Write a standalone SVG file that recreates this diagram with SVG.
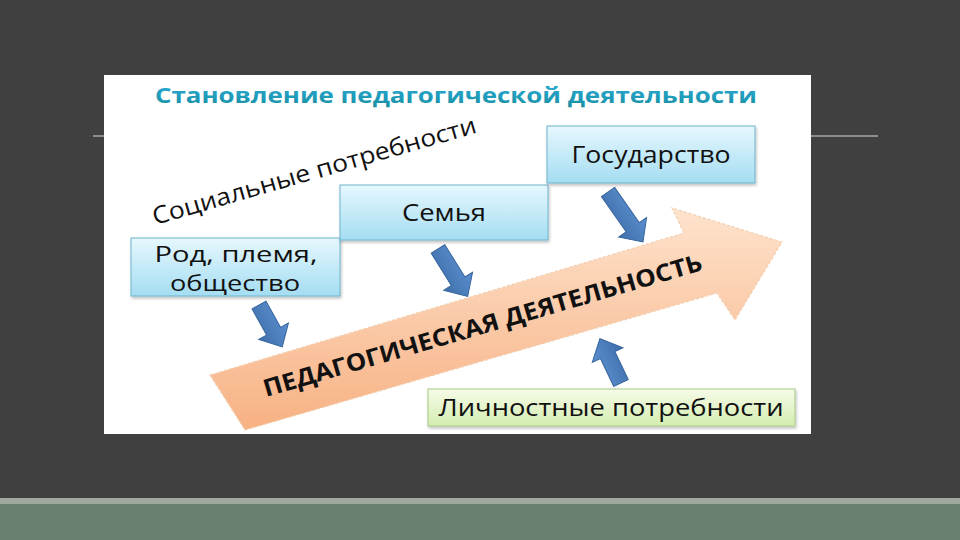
<svg xmlns="http://www.w3.org/2000/svg" width="960" height="540" viewBox="0 0 960 540">
<defs>
<linearGradient id="gBlue" x1="0" y1="0" x2="0" y2="1"><stop offset="0" stop-color="#e6f7fd"/><stop offset="1" stop-color="#a4ddf2"/></linearGradient>
<linearGradient id="gGreen" x1="0" y1="0" x2="0" y2="1"><stop offset="0" stop-color="#f6fbe8"/><stop offset="1" stop-color="#d4edb0"/></linearGradient>
<linearGradient id="gOrange" x1="0" y1="0" x2="0" y2="1"><stop offset="0" stop-color="#fee3cd"/><stop offset="1" stop-color="#f7b183"/></linearGradient>
<linearGradient id="gTitle" x1="0" y1="0" x2="0" y2="1"><stop offset="0" stop-color="#2db0e0"/><stop offset="1" stop-color="#178d9e"/></linearGradient>
<linearGradient id="gArrow" x1="0" y1="0" x2="0" y2="1"><stop offset="0" stop-color="#5b8fce"/><stop offset="1" stop-color="#3f6fab"/></linearGradient>
<filter id="sh" x="-10%" y="-10%" width="130%" height="140%"><feDropShadow dx="1" dy="2" stdDeviation="1.5" flood-color="#000" flood-opacity="0.25"/></filter>
</defs>
<style>
.box{stroke:#6eb3cb;stroke-width:1;filter:url(#sh)}
.lbl{font-family:"Open Sans","Liberation Sans",sans-serif;font-size:23px;fill:#111;text-anchor:middle}
.barrow{fill:url(#gArrow);stroke:#36649c;stroke-width:1}
</style>
<rect width="960" height="540" fill="#404040"/>
<rect x="0" y="498" width="960" height="6" fill="#9fa99f"/>
<rect x="0" y="504" width="960" height="36" fill="#6b7f71"/>
<line x1="93" y1="136" x2="878" y2="136" stroke="#dcdcdc" stroke-width="1"/>
<rect x="104" y="75" width="707" height="359" fill="#ffffff"/>
<text x="155" y="103" font-family="'Open Sans','Liberation Sans',sans-serif" font-weight="bold" font-size="22" fill="url(#gTitle)" textLength="602" lengthAdjust="spacingAndGlyphs">Становление педагогической деятельности</text>
<g id="big-arrow">
<path d="M210,375 L684,233 L672,208 L782,242 L735,320 L717,293 L245,430 Z" fill="url(#gOrange)" stroke="#f3cfb1" stroke-width="1.2" stroke-dasharray="3,2"/>
<text x="266" y="397" transform="rotate(-16.2 266 397)" font-family="'Open Sans','Liberation Sans',sans-serif" font-weight="bold" font-size="24" fill="#111" textLength="456" lengthAdjust="spacingAndGlyphs">ПЕДАГОГИЧЕСКАЯ ДЕЯТЕЛЬНОСТЬ</text>
</g>
<g id="social-needs">
<text x="155" y="225" transform="rotate(-16 155 225)" font-family="'Open Sans','Liberation Sans',sans-serif" font-size="24" fill="#111" textLength="336" lengthAdjust="spacingAndGlyphs">Социальные потребности</text>
</g>
<g id="node-rod">
<rect class="box" x="131" y="238" width="209" height="58" fill="url(#gBlue)"/>
<text class="lbl" x="236" y="262" font-size="21" style="font-size:21px" textLength="163" lengthAdjust="spacingAndGlyphs">Род, племя,</text>
<text class="lbl" x="235" y="291" font-size="21" style="font-size:21px" textLength="130" lengthAdjust="spacingAndGlyphs">общество</text>
</g>
<g id="node-semya">
<rect class="box" x="340" y="185" width="208" height="55" fill="url(#gBlue)"/>
<text class="lbl" x="444" y="221" textLength="84" lengthAdjust="spacingAndGlyphs">Семья</text>
</g>
<g id="node-gos">
<rect class="box" x="547" y="126" width="208" height="57" fill="url(#gBlue)"/>
<text class="lbl" x="651" y="163" textLength="159" lengthAdjust="spacingAndGlyphs">Государство</text>
</g>
<g id="node-lichn">
<rect x="428" y="389" width="367" height="37" fill="url(#gGreen)" stroke="#a4c987" stroke-width="1" filter="url(#sh)"/>
<text class="lbl" x="611" y="416" textLength="345" lengthAdjust="spacingAndGlyphs">Личностные потребности</text>
</g>
<g id="connectors">
<path class="barrow" transform="translate(259 305) rotate(61)" d="M0,-8 H30 V-17 L48,0 L30,17 V8 H0 Z"/>
<path class="barrow" transform="translate(438 249) rotate(58)" d="M0,-8 H38 V-17 L56,0 L38,17 V8 H0 Z"/>
<path class="barrow" transform="translate(608 192) rotate(55)" d="M0,-8 H43 V-17 L61,0 L43,17 V8 H0 Z"/>
<path class="barrow" transform="translate(621 383) rotate(-115.5)" d="M0,-8 H31 V-17 L49,0 L31,17 V8 H0 Z"/>
</g>
</svg>
